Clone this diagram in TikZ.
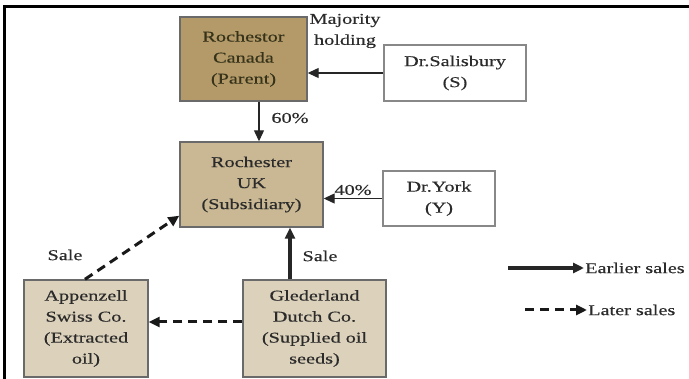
\documentclass[tikz,border=0pt]{standalone}
\usepackage{fontspec}
\setmainfont[FakeStretch=1.35,FakeBold=0.4]{Liberation Serif}
\usepackage{tikz}
\usetikzlibrary{arrows.meta,positioning,calc}
\definecolor{parentfill}{HTML}{B39A68}
\definecolor{subfill}{HTML}{C9B893}
\definecolor{tradefill}{HTML}{DCD1BA}
\definecolor{boxline}{HTML}{6A6A6A}
\definecolor{inktext}{HTML}{2B2B2B}
\definecolor{olivetext}{HTML}{36331A}

\begin{document}
\begin{tikzpicture}[x=1pt,y=-1pt,
      font=\fontsize{15}{21}\selectfont,text=inktext,
      firm/.style={draw=boxline,line width=1.4pt,align=center,inner sep=2pt},
      owner/.style={draw=boxline!80,line width=1.2pt,fill=white,align=center,inner sep=2pt},
      lbl/.style={inner sep=1pt,align=center},
      thin/.style={-{Triangle[length=11pt,width=10pt]},black!85,line width=1.2pt},
      early/.style={-{Triangle[length=11pt,width=10pt]},black!85,line width=3.4pt},
      late/.style={-{Triangle[length=11pt,width=10pt]},black!90,line width=3pt,dash pattern=on 9pt off 6pt}]
    \useasboundingbox (0,0) rectangle (689,379);
    % frame
    \draw[line width=3pt] (689,7) -- (4,7) -- (4,379);
    % ownership
    \node[firm,fill=parentfill,text=olivetext,minimum width=127pt,minimum height=84pt] (can) at (243.5,59)
      {Rochestor\\Canada\\(Parent)};
    \node[owner,minimum width=142pt,minimum height=56pt] (sal) at (455,73) {Dr.Salisbury\\(S)};
    \node[firm,fill=subfill,minimum width=143pt,minimum height=85pt] (uk) at (251.5,184.5)
      {Rochester\\UK\\(Subsidiary)};
    \node[owner,minimum width=112pt,minimum height=55pt] (york) at (439,198.5) {Dr.York\\(Y)};
    % trading companies
    \node[firm,fill=tradefill,minimum width=124pt,minimum height=97pt] (app) at (86,328.5)
      {Appenzell\\Swiss Co.\\(Extracted\\oil)};
    \node[firm,fill=tradefill,minimum width=143pt,minimum height=97pt] (gel) at (314.5,328.5)
      {Glederland\\Dutch Co.\\(Supplied oil\\seeds)};
    \node[lbl] (maj) at (345,31) {Majority\\holding};
    \node[lbl] (sixty) at (290,118) {60\%};
    \node[lbl] (forty) at (353,190) {40\%};
    \node[lbl] (saleA) at (65,255) {Sale};
    \node[lbl] (saleB) at (320,256) {Sale};
    % legend
    \node[lbl,anchor=west] (legE) at (584,268) {Earlier sales};
    \node[lbl,anchor=west] (legL) at (587,310) {Later sales};
    \coordinate (legEs) at (508,268);
    \coordinate (legLs) at (525,310);
    % connectors
    \draw[thin] (sal.west) -- (sal.west -| can.east);
    \draw[thin] ([xshift=15.5pt]can.south) -- ([xshift=15.5pt]can.south |- uk.north);
    \draw[thin] (york.west) -- (york.west -| uk.east);
    \draw[early] ([xshift=-24.5pt]gel.north) -- ([xshift=-24.5pt]gel.north |- uk.south);
    \draw[late] ([xshift=-1pt]app.north) -- ([yshift=12pt]uk.south west);
    \draw[late] ([yshift=6.5pt]gel.west) -- ([yshift=6.5pt]gel.west -| app.east);
    \draw[early] (legEs) -- (legE.west);
    \draw[late] (legLs) -- (legL.west);
\end{tikzpicture}
\end{document}
